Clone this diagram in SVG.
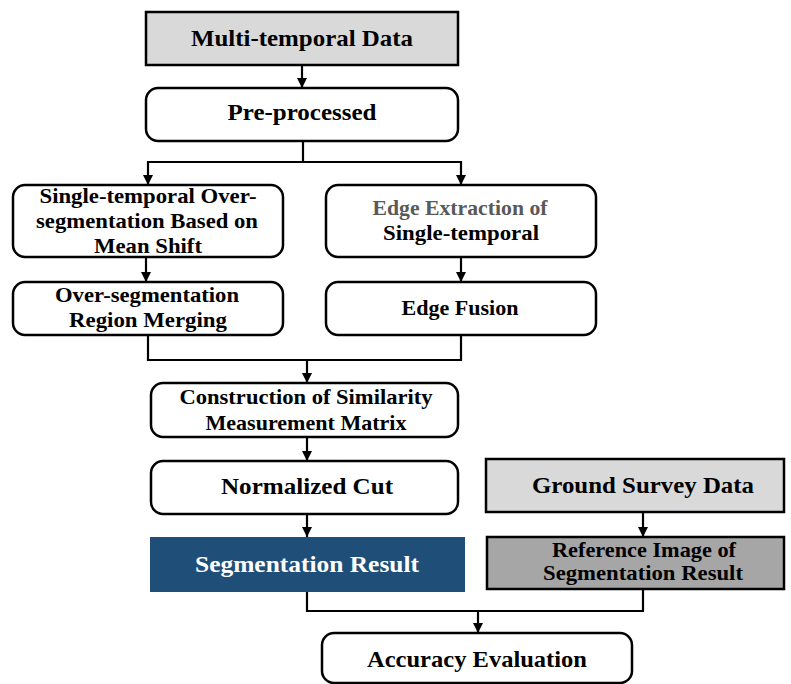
<svg xmlns="http://www.w3.org/2000/svg" width="791" height="684" viewBox="0 0 791 684">
  <defs>
    <marker id="arrow" markerUnits="userSpaceOnUse" markerWidth="10" markerHeight="11" refX="10" refY="5" orient="auto">
      <path d="M0,0 L10,5 L0,10 z" fill="#000"/>
    </marker>
    <style>
      .box { fill: #fff; stroke: #000; stroke-width: 2.5; }
      .grey { fill: #d9d9d9; stroke: #000; stroke-width: 2.5; }
      .dark { fill: #a6a6a6; stroke: #000; stroke-width: 2.5; }
      .blue { fill: #1f4e79; stroke: none; }
      .conn { fill: none; stroke: #000; stroke-width: 2.2; }
      .arr { marker-end: url(#arrow); }
      text { font-family: "Liberation Serif", "Times New Roman", serif; font-weight: bold; text-anchor: middle; fill: #000; }
      .lg { font-size: 24px; }
      .sm { font-size: 21.5px; }
    </style>
  </defs>

  <rect width="791" height="684" fill="#fff"/>

  <!-- connectors -->
  <g id="connectors">
    <path class="conn arr" d="M302,65 V88"/>
    <path class="conn" d="M303,141 V162"/>
    <path class="conn arr" d="M148,162 H461 V185"/>
    <path class="conn arr" d="M148,161 V185"/>
    <path class="conn arr" d="M146,257 V282"/>
    <path class="conn arr" d="M461,257 V282"/>
    <path class="conn" d="M148,335 V360 H461 V335"/>
    <path class="conn arr" d="M307,360 V383"/>
    <path class="conn arr" d="M307,437 V461"/>
    <path class="conn arr" d="M307,514 V537"/>
    <path class="conn arr" d="M643,512 V537"/>
    <path class="conn" d="M307,592 V611 H643 V590"/>
    <path class="conn arr" d="M478,611 V633"/>
  </g>

  <g id="multi-temporal">
    <rect class="grey" x="146" y="12" width="312" height="53"/>
    <text class="lg" x="302" y="46" textLength="222" lengthAdjust="spacingAndGlyphs">Multi-temporal Data</text>
  </g>

  <g id="pre-processed">
    <rect class="box" x="146" y="88" width="312" height="53" rx="12"/>
    <text class="lg" x="302" y="120" textLength="149" lengthAdjust="spacingAndGlyphs">Pre-processed</text>
  </g>

  <g id="mean-shift">
    <rect class="box" x="13" y="185" width="270" height="72" rx="12"/>
    <text class="sm" x="148" y="203" textLength="217" lengthAdjust="spacingAndGlyphs">Single-temporal Over-</text>
    <text class="sm" x="147" y="228" textLength="222" lengthAdjust="spacingAndGlyphs">segmentation Based on</text>
    <text class="sm" x="148" y="253" textLength="108" lengthAdjust="spacingAndGlyphs">Mean Shift</text>
  </g>

  <g id="region-merging">
    <rect class="box" x="13" y="282" width="270" height="53" rx="12"/>
    <text class="sm" x="147" y="302" textLength="184" lengthAdjust="spacingAndGlyphs">Over-segmentation</text>
    <text class="sm" x="148" y="327" textLength="158" lengthAdjust="spacingAndGlyphs">Region Merging</text>
  </g>

  <g id="edge-extraction">
    <rect class="box" x="326" y="185" width="270" height="72" rx="12"/>
    <text class="sm" x="460" y="215" textLength="175" lengthAdjust="spacingAndGlyphs" style="fill:#595959">Edge Extraction of</text>
    <text class="sm" x="461" y="240" textLength="156" lengthAdjust="spacingAndGlyphs">Single-temporal</text>
  </g>

  <g id="edge-fusion">
    <rect class="box" x="326" y="282" width="270" height="53" rx="12"/>
    <text class="sm" x="460" y="315" textLength="117" lengthAdjust="spacingAndGlyphs">Edge Fusion</text>
  </g>

  <g id="similarity-matrix">
    <rect class="box" x="151" y="383" width="307" height="54" rx="12"/>
    <text class="sm" x="306" y="404" textLength="253" lengthAdjust="spacingAndGlyphs">Construction of Similarity</text>
    <text class="sm" x="306" y="430" textLength="201" lengthAdjust="spacingAndGlyphs">Measurement Matrix</text>
  </g>

  <g id="normalized-cut">
    <rect class="box" x="151" y="461" width="307" height="53" rx="12"/>
    <text class="lg" x="307" y="494" textLength="172" lengthAdjust="spacingAndGlyphs">Normalized Cut</text>
  </g>

  <g id="segmentation-result">
    <rect class="blue" x="150" y="537" width="315" height="55"/>
    <text class="lg" x="307" y="572" textLength="224" lengthAdjust="spacingAndGlyphs" style="fill:#fff">Segmentation Result</text>
  </g>

  <g id="ground-survey">
    <rect class="grey" x="486" y="459" width="298" height="53"/>
    <text class="lg" x="643" y="493" textLength="222" lengthAdjust="spacingAndGlyphs">Ground Survey Data</text>
  </g>

  <g id="reference-image">
    <rect class="dark" x="487" y="537" width="297" height="52"/>
    <text class="sm" x="644" y="557" textLength="184" lengthAdjust="spacingAndGlyphs">Reference Image of</text>
    <text class="sm" x="643" y="580" textLength="200" lengthAdjust="spacingAndGlyphs">Segmentation Result</text>
  </g>

  <g id="accuracy-evaluation">
    <rect class="box" x="322" y="633" width="310" height="50" rx="12"/>
    <text class="lg" x="477" y="667" textLength="220" lengthAdjust="spacingAndGlyphs">Accuracy Evaluation</text>
  </g>
</svg>
